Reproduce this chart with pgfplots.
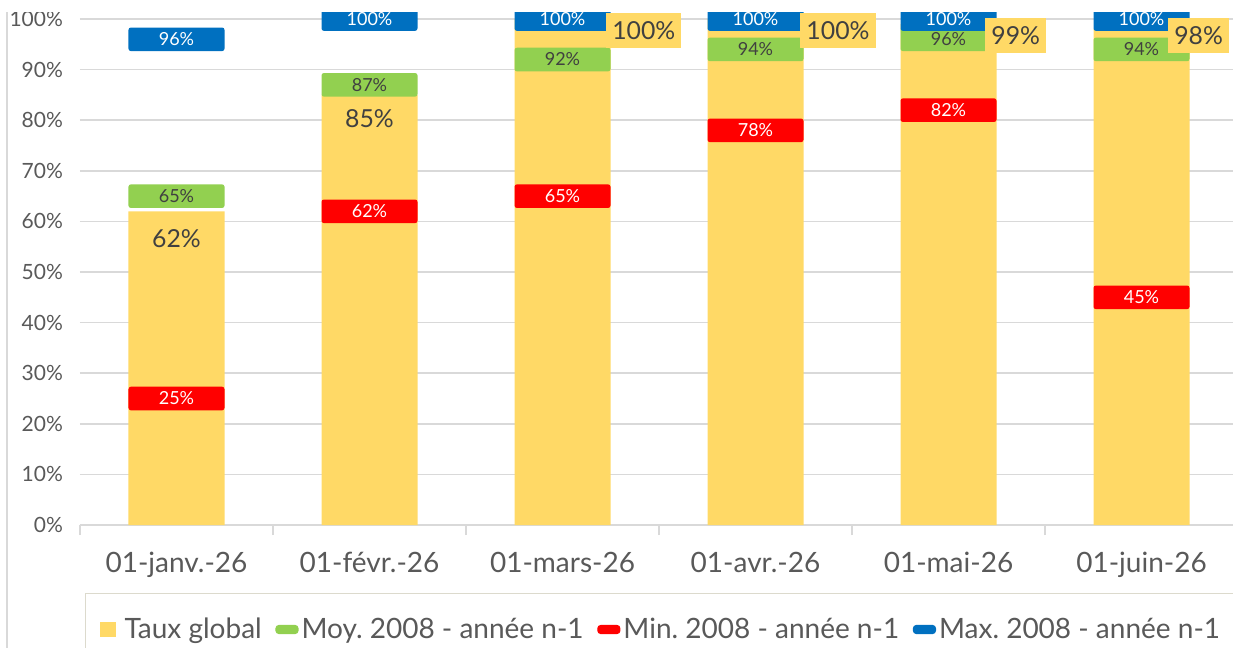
\documentclass[border=0pt]{standalone}
\usepackage{fontspec}
\setmainfont{Lato}
\usepackage{pgfplots}
\pgfplotsset{compat=1.18}
\frenchspacing
\definecolor{cY}{RGB}{255,217,102}
\definecolor{cG}{RGB}{146,208,80}
\definecolor{cR}{RGB}{255,0,0}
\definecolor{cB}{RGB}{0,112,192}
\definecolor{cT}{RGB}{64,64,64}
\definecolor{cTick}{RGB}{89,89,89}
\definecolor{cGrid}{RGB}{217,217,217}
\definecolor{cLeg}{RGB}{220,218,205}
\pgfplotsset{
  mk/.style={only marks, mark=square*, mark size=0.01pt,
    mark options={draw=none,fill=none}, point meta=y,
    nodes near coords={\pgfmathprintnumber[fixed,precision=0]{\pgfplotspointmeta}\%},
    every node near coord/.style={anchor=center, fill=#1, rounded corners=1.2pt,
      minimum width=48pt, minimum height=11.8pt, inner sep=0pt,
      font=\fontsize{9}{10}\selectfont}},
}
\begin{document}
\begin{tikzpicture}
\useasboundingbox (-40pt,-61.5pt) rectangle (576.5pt,262.5pt);
\clip (-40pt,-61.5pt) rectangle (576.5pt,256pt);
\draw[cGrid, line width=0.7pt] (-36.5pt,-61.5pt) -- (-36.5pt,262.5pt);
\begin{axis}[
  at={(0pt,0pt)}, anchor=south west, scale only axis,
  width=576.5pt, height=256pt,
  xmin=-0.5, xmax=5.474, ymin=0, ymax=101.2,
  clip=false,
  axis x line*=bottom, axis y line*=left,
  x axis line style={draw=cGrid, line width=0.7pt},
  y axis line style={draw=none},
  xtick={0,1,2,3,4,5},
  xticklabels={01-janv.-26,01-févr.-26,01-mars-26,01-avr.-26,01-mai-26,01-juin-26},
  minor xtick={-0.5,0.5,1.5,2.5,3.5,4.5,5.5},
  major tick length=0pt, minor tick length=5pt, tick align=outside,
  minor tick style={draw=cGrid, line width=0.7pt},
  ytick={0,10,...,100},
  yticklabel={\pgfmathprintnumber{\tick}\%},
  /pgf/number format/assume math mode=true,
  ymajorgrids, grid style={cGrid, line width=0.8pt},
  xticklabel style={font=\fontsize{14}{16}\selectfont, text=cTick, yshift=-10pt},
  yticklabel style={font=\fontsize{10.5}{12}\selectfont, text=cTick, xshift=-5pt},
  legend columns=4,
  legend style={at={(0.0043,-0.133)}, anchor=north west, draw=cLeg, line width=0.6pt,
    font=\fontsize{14}{16}\selectfont, text=cTick, inner xsep=7pt, inner ysep=10pt,
    /tikz/every even column/.append style={column sep=5.3pt},
    nodes={inner xsep=1.5pt}},
]
\addplot[ybar, bar width=48pt, fill=cY, draw=none,
  legend image code/.code={\fill[cY] (0pt,-3.7pt) rectangle (8pt,3.7pt); \path (11pt,0pt);}]
  coordinates {(0,62) (1,85) (2,100) (3,100) (4,99) (5,98)};
\addlegendentry{Taux global}
\addplot[mk=cG, every node near coord/.append style={text=cT},
  legend image code/.code={\fill[cG, rounded corners=1.5pt] (0pt,-2pt) rectangle (11pt,2pt);}]
  coordinates {(0,65) (1,87) (2,92) (3,94) (4,96) (5,94)};
\addlegendentry{Moy. 2008 - année n-1}
\addplot[mk=cR, every node near coord/.append style={text=white},
  legend image code/.code={\fill[cR, rounded corners=1.5pt] (0pt,-2pt) rectangle (11pt,2pt);}]
  coordinates {(0,25) (1,62) (2,65) (3,78) (4,82) (5,45)};
\addlegendentry{Min. 2008 - année n-1}
\addplot[mk=cB, every node near coord/.append style={text=white},
  legend image code/.code={\fill[cB, rounded corners=1.5pt] (0pt,-2pt) rectangle (11pt,2pt);}]
  coordinates {(0,96) (1,100) (2,100) (3,100) (4,100) (5,100)};
\addlegendentry{Max. 2008 - année n-1}
% Taux global labels inside bars
\addplot[forget plot, only marks, mark=square*, mark size=0.01pt,
  mark options={draw=none,fill=none}, point meta=explicit,
  nodes near coords={\pgfmathprintnumber[fixed,precision=0]{\pgfplotspointmeta}\%},
  every node near coord/.style={anchor=center, text=cT, inner sep=0pt,
    font=\fontsize{12.4}{14}\selectfont}]
  coordinates {(0,56.7) [62] (1,80.4) [85]};
% Taux global labels outside (boxed)
\addplot[forget plot, only marks, mark=square*, mark size=0.01pt,
  mark options={draw=none,fill=none}, point meta=explicit,
  nodes near coords={\pgfmathprintnumber[fixed,precision=0]{\pgfplotspointmeta}\%},
  every node near coord/.style={anchor=west, text=cT, fill=cY, inner xsep=3pt,
    inner ysep=0pt, minimum height=17.5pt,
    font=\fontsize{12.4}{14}\selectfont}]
  coordinates {(2.225,97.8) [100] (3.231,97.8) [100] (4.189,96.7) [99] (5.137,96.7) [98]};
\end{axis}
\end{tikzpicture}
\end{document}
